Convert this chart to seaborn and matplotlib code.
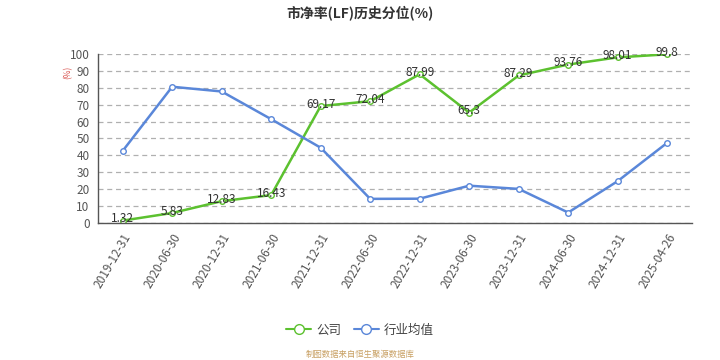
import numpy as np
import pandas as pd
import matplotlib
matplotlib.use("Agg")
import matplotlib.pyplot as plt
import seaborn as sns
from matplotlib.lines import Line2D

# ---------------------------------------------------------------------------
# DONNEES
# ---------------------------------------------------------------------------
dates = ["2019-12-31", "2020-06-30", "2020-12-31", "2021-06-30", "2021-12-31",
         "2022-06-30", "2022-12-31", "2023-06-30", "2023-12-31", "2024-06-30",
         "2024-12-31", "2025-04-26"]
company = [1.32, 5.83, 12.83, 16.43, 69.17, 72.04, 87.99, 65.3, 87.29, 93.76,
           98.01, 99.8]
industry = [42.6, 80.6, 77.8, 61.4, 44.5, 14.2, 14.3, 22.0, 20.1, 6.1, 24.7,
            47.4]
company_label = [str(v) for v in company]

GREEN = "#5cc12f"
BLUE = "#5a87d9"
TEXT = "#333333"

sns.set_style("white")
plt.rcParams["font.family"] = ["Noto Sans CJK SC", "DejaVu Sans"]

df = pd.DataFrame({
    "x": list(range(len(dates))) * 2,
    "value": company + industry,
    "serie": ["公司"] * len(dates) + ["行业均值"] * len(dates),
})

fig = plt.figure(figsize=(7.2, 3.6), dpi=100)
ax = fig.add_axes([0.136, 0.381, 0.825, 0.469])

sns.lineplot(data=df, x="x", y="value", hue="serie",
             palette={"公司": GREEN, "行业均值": BLUE}, ax=ax,
             linewidth=1.8, marker="o", markersize=4,
             markerfacecolor="white", markeredgewidth=1.0, legend=False)
for line, c in zip(ax.lines, [GREEN, BLUE]):
    line.set_markeredgecolor(c)

for i, (v, lab) in enumerate(zip(company, company_label)):
    ax.text(i, v + 1.0, lab, ha="center", va="center", fontsize=8.5,
            color=TEXT)

ax.set_xlim(-0.5, len(dates) - 0.5)
ax.set_ylim(0, 100)
ax.set_yticks(range(0, 101, 10))
ax.set_xticks(range(len(dates)))
ax.set_xticklabels(dates, rotation=60, ha="right", rotation_mode="anchor")
ax.set_xticks(np.arange(-0.5, len(dates), 1), minor=True)
ax.tick_params(axis="x", which="major", length=0, labelsize=8.5,
               colors="#555555", pad=6)
ax.tick_params(axis="x", which="minor", length=4, color="#555555",
               direction="out")
ax.tick_params(axis="y", length=4, labelsize=8.5, colors="#555555",
               direction="out", pad=2)
ax.yaxis.grid(True, linestyle=(0, (4, 3)), color="#b0b0b0", linewidth=0.9)
ax.xaxis.grid(False)
ax.set_axisbelow(True)
for side in ["top", "right"]:
    ax.spines[side].set_visible(False)
for side in ["left", "bottom"]:
    ax.spines[side].set_color("#555555")
    ax.spines[side].set_linewidth(1.0)
ax.set_xlabel("")
ax.set_ylabel("")

fig.text(0.095, 0.80, "(%)", rotation=90, color="#d9534f", fontsize=6,
         ha="center", va="center")

fig.suptitle("市净率(LF)历史分位(%)", x=0.5, y=0.985, fontsize=10,
             fontweight="bold", color=TEXT)

handles = [
    Line2D([], [], color=GREEN, marker="o", markerfacecolor="white",
           markeredgecolor=GREEN, markersize=7, linewidth=1.5),
    Line2D([], [], color=BLUE, marker="o", markerfacecolor="white",
           markeredgecolor=BLUE, markersize=7, linewidth=1.5),
]
fig.legend(handles, ["公司", "行业均值"], loc="center", ncol=2,
           bbox_to_anchor=(0.5, 0.083), frameon=False, fontsize=9,
           handlelength=2.0, columnspacing=1.0, handletextpad=0.4,
           labelcolor="#444444")

fig.text(0.5, 0.015, "制图数据来自恒生聚源数据库", ha="center", va="center",
         fontsize=6, color="#c8a063")

fig.savefig("out.png", dpi=100)
